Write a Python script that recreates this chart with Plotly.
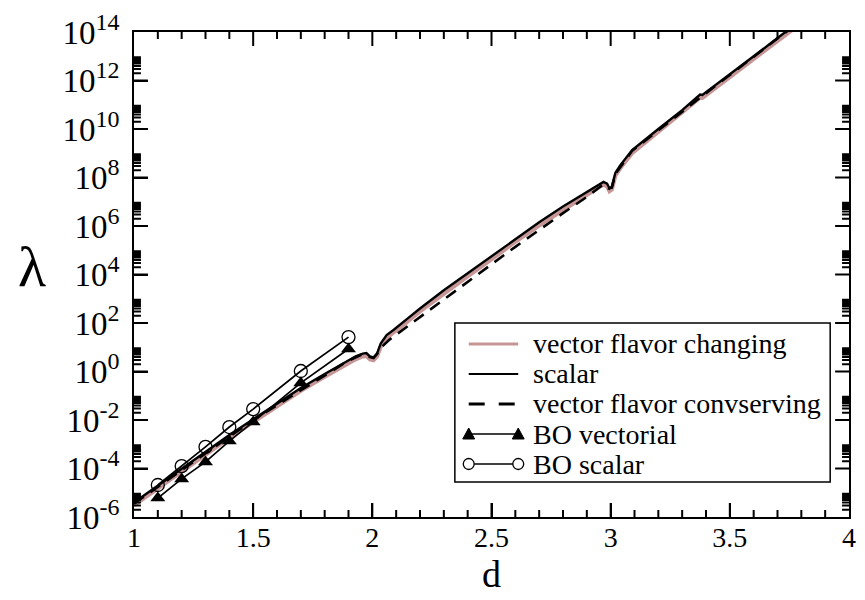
import math
import plotly.graph_objects as go

# ---- data (lambda given as log10 values) ----
d_scalar = [1.00, 1.05, 1.10, 1.20, 1.30, 1.40, 1.50, 1.60, 1.70, 1.80, 1.85, 1.90, 1.93, 1.96,
            1.975, 1.99, 2.005, 2.02, 2.035, 2.06, 2.09, 2.15, 2.20, 2.30, 2.40, 2.50, 2.60, 2.70,
            2.80, 2.90, 2.95, 2.97, 2.985, 2.995, 3.005, 3.02, 3.04, 3.09, 3.20, 3.30, 3.375, 3.385,
            3.40, 3.50, 3.60, 3.70, 3.76]
log_scalar = [-5.40, -5.05, -4.70, -4.00, -3.30, -2.62, -1.97, -1.32, -0.68, -0.10, 0.18, 0.48, 0.63, 0.74,
              0.76, 0.62, 0.58, 0.75, 1.15, 1.50, 1.72, 2.20, 2.60, 3.35, 4.05, 4.75, 5.48, 6.15,
              6.80, 7.42, 7.72, 7.82, 7.75, 7.55, 7.62, 8.20, 8.50, 9.13, 10.00, 10.78, 11.42, 11.40,
              11.52, 12.25, 13.00, 13.75, 14.20]

d_changing = d_scalar
log_changing = [-5.52, -5.17, -4.82, -4.12, -3.42, -2.74, -2.09, -1.44, -0.80, -0.22, 0.06, 0.36, 0.50, 0.62,
                0.64, 0.50, 0.46, 0.62, 1.02, 1.38, 1.60, 2.08, 2.48, 3.22, 3.92, 4.62, 5.35, 6.02,
                6.67, 7.30, 7.60, 7.70, 7.63, 7.43, 7.50, 8.08, 8.38, 9.00, 9.87, 10.65, 11.29, 11.28,
                11.39, 12.12, 12.87, 13.62, 14.07]

d_conserving = [1.00, 1.50, 1.90, 1.96, 1.99, 2.005, 2.02, 2.04, 2.07, 2.10, 2.20, 2.30, 2.40, 2.50,
                2.60, 2.70, 2.80, 2.90, 2.95, 2.97, 2.99, 3.005, 3.02, 3.09, 3.40, 3.76]
log_conserving = [-5.45, -2.00, 0.45, 0.72, 0.60, 0.56, 0.72, 1.02, 1.30, 1.52, 2.25, 2.98, 3.70, 4.42,
                  5.14, 5.85, 6.53, 7.20, 7.55, 7.72, 7.55, 7.58, 8.15, 9.10, 11.48, 14.18]

d_bo = [1.1, 1.2, 1.3, 1.4, 1.5, 1.7, 1.9]
log_bo_vectorial = [-5.22, -4.43, -3.73, -2.87, -2.08, -0.47, 0.93]
log_bo_scalar = [-4.68, -3.90, -3.11, -2.29, -1.55, 0.02, 1.42]

x_ticks = [1, 1.5, 2, 2.5, 3, 3.5, 4]
x_ticktext = ["1", "1.5", "2", "2.5", "3", "3.5", "4"]
x_minor = [1.1, 1.2, 1.3, 1.4, 1.6, 1.7, 1.8, 1.9, 2.1, 2.2, 2.3, 2.4, 2.6, 2.7, 2.8, 2.9,
           3.1, 3.2, 3.3, 3.4, 3.6, 3.7, 3.8, 3.9]
y_exponents = [-6, -4, -2, 0, 2, 4, 6, 8, 10, 12, 14]
y_minor_factors = [2, 3, 4, 5, 6, 7, 8, 9]

legend_names = ["vector flavor changing", "scalar", "vector flavor convserving",
                "BO vectorial", "BO scalar"]

X_RANGE = [1, 4]
Y_RANGE_LOG = [-6, 14]


def lam(vals):
    return [10 ** v for v in vals]


BROWN = "rgb(198,150,150)"
fig = go.Figure()
fig.add_trace(go.Scatter(x=d_changing, y=lam(log_changing), mode="lines",
                         name=legend_names[0], line=dict(color=BROWN, width=4)))
fig.add_trace(go.Scatter(x=d_conserving, y=lam(log_conserving), mode="lines",
                         name=legend_names[2],
                         line=dict(color="black", width=2.6, dash="12px,8px")))
fig.add_trace(go.Scatter(x=d_scalar, y=lam(log_scalar), mode="lines",
                         name=legend_names[1], line=dict(color="black", width=2.4)))
fig.add_trace(go.Scatter(x=d_bo, y=lam(log_bo_vectorial), mode="lines+markers",
                         name=legend_names[3], line=dict(color="black", width=1.7),
                         marker=dict(symbol="triangle-up", size=13, color="black")))
fig.add_trace(go.Scatter(x=d_bo, y=lam(log_bo_scalar), mode="lines+markers",
                         name=legend_names[4], line=dict(color="black", width=1.7),
                         marker=dict(symbol="circle-open", size=13, color="black",
                                     line=dict(color="black", width=1.3))))

y_tickvals = [10 ** e for e in y_exponents]
y_ticktext = ["10<sup><span style='font-size:24px'>%d</span></sup>" % e for e in y_exponents]

# ---- layout geometry (pixels of the 865x600 page) ----
L, R, T, B = 134, 856, 32, 517
W, H = 865, 600
PW, PH = R - L, B - T


def px(x):
    return (x - L) / PW


def py(y):
    return (B - y) / PH


def xfrac(value):
    return (value - X_RANGE[0]) / (X_RANGE[1] - X_RANGE[0])


def yfrac(value):
    return (math.log10(value) - Y_RANGE_LOG[0]) / (Y_RANGE_LOG[1] - Y_RANGE_LOG[0])


# ---- tick marks on all four sides (inside) ----
MAJ, MIN = 14, 7
tick_path = []
for v, ln in [(v, MAJ) for v in x_ticks[1:-1]] + [(v, MIN) for v in x_minor]:
    f = xfrac(v)
    tick_path.append("M{:.5f},0 L{:.5f},{:.5f}".format(f, f, ln / PH))
    tick_path.append("M{:.5f},1 L{:.5f},{:.5f}".format(f, f, 1 - ln / PH))
y_minor_vals = [k * 10 ** e for e in y_exponents[:-1] for k in y_minor_factors]
for v, ln in [(v, MAJ) for v in y_tickvals[1:-1]] + [(v, MIN) for v in y_minor_vals]:
    f = yfrac(v)
    tick_path.append("M0,{:.5f} L{:.5f},{:.5f}".format(f, ln / PW, f))
    tick_path.append("M1,{:.5f} L{:.5f},{:.5f}".format(f, 1 - ln / PW, f))

shapes = [dict(type="path", xref="paper", yref="paper", path=" ".join(tick_path),
               line=dict(color="black", width=2), layer="above")]

xaxis = dict(range=X_RANGE, tickmode="array", tickvals=x_ticks, ticktext=x_ticktext,
             tickfont=dict(size=28), ticklabelstandoff=-6,
             ticks="inside", ticklen=MAJ, tickwidth=2, tickcolor="black",
             showgrid=False, zeroline=False,
             showline=True, linecolor="black", linewidth=2, mirror=True,
             title=dict(text="d", font=dict(size=38), standoff=0))
yaxis = dict(type="log", range=Y_RANGE_LOG, tickmode="array", tickvals=y_tickvals,
             ticktext=y_ticktext, tickfont=dict(size=33), ticklabelstandoff=6,
             ticks="inside", ticklen=MAJ, tickwidth=2, tickcolor="black",
             showgrid=False, zeroline=False,
             showline=True, linecolor="black", linewidth=2, mirror=True)

# ---- hand-drawn legend (box, samples, text) ----
row_y = [344, 374, 404, 434, 464]
s0, s1, tx = 472, 522, 535
shapes.append(dict(type="rect", xref="paper", yref="paper", x0=px(458), x1=px(837),
                   y0=py(482), y1=py(323), line=dict(color="black", width=1.5),
                   fillcolor="white", layer="above"))
styles = [dict(color=BROWN, width=3), dict(color="black", width=2),
          dict(color="black", width=3, dash="16px,14px"),
          dict(color="black", width=1.6), dict(color="black", width=1.6)]
for yy, st in zip(row_y, styles):
    shapes.append(dict(type="line", xref="paper", yref="paper", x0=px(s0), x1=px(s1),
                       y0=py(yy), y1=py(yy), line=st, layer="above"))
for xc in (s0, s1):
    yc = row_y[3]
    path = "M{},{} L{},{} L{},{} Z".format(px(xc - 6), py(yc + 5), px(xc + 6), py(yc + 5),
                                           px(xc), py(yc - 6))
    shapes.append(dict(type="path", xref="paper", yref="paper", path=path,
                       fillcolor="black", line=dict(color="black", width=1), layer="above"))
    yc = row_y[4]
    shapes.append(dict(type="circle", xref="paper", yref="paper",
                       x0=px(xc - 5.5), x1=px(xc + 5.5), y0=py(yc + 5.5), y1=py(yc - 5.5),
                       fillcolor="white", line=dict(color="black", width=1.3), layer="above"))

annotations = [dict(text=name, xref="paper", yref="paper", x=px(tx), y=py(yy),
                    xanchor="left", yanchor="middle", showarrow=False,
                    font=dict(size=28, family="Liberation Serif", color="black"))
               for name, yy in zip(legend_names, row_y)]
annotations.append(dict(text="λ", xref="paper", yref="paper", x=px(31), y=py(266),
                        xanchor="center", yanchor="middle", showarrow=False,
                        font=dict(size=58, family="Liberation Serif", color="black")))

fig.update_layout(
    width=W, height=H,
    margin=dict(l=L, r=W - R, t=T, b=H - B),
    paper_bgcolor="white", plot_bgcolor="white",
    font=dict(family="Liberation Serif", color="black"),
    showlegend=False,
    xaxis=xaxis, yaxis=yaxis,
    shapes=shapes, annotations=annotations,
)

fig.write_html("out.html")
